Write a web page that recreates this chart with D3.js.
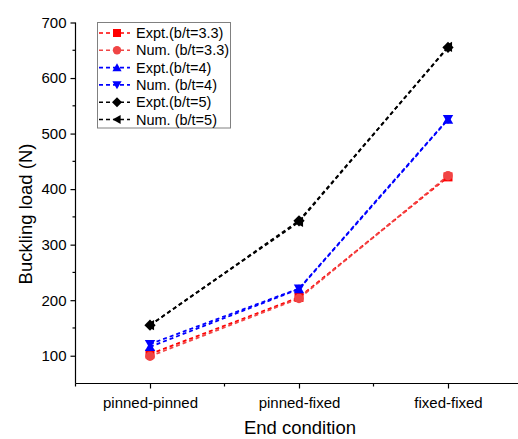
<!DOCTYPE html>
<html><head><meta charset="utf-8">
<script src="https://cdn.jsdelivr.net/npm/d3@7"></script>
<style>body{margin:0;background:#fff}svg{display:block;font-family:Arial,"Liberation Sans",sans-serif}</style>
</head><body><svg id="c" width="518" height="439"></svg>
<script>
const categories = ["pinned-pinned", "pinned-fixed", "fixed-fixed"];
const exptB33 = [103, 205, 422];
const numB33  = [99, 203, 424];
const exptB4  = [116, 220, 525];
const numB4   = [121, 221, 526];
const exptB5  = [155, 343, 655];
const numB5   = [155, 341, 656];
const yTicks = [100, 200, 300, 400, 500, 600, 700];
const seriesNames = ["Expt.(b/t=3.3)", "Num. (b/t=3.3)", "Expt.(b/t=4)", "Num. (b/t=4)", "Expt.(b/t=5)", "Num. (b/t=5)"];

const series = [
  {name: seriesNames[0], values: exptB33, color: "#ff0000", sym: "square"},
  {name: seriesNames[1], values: numB33, color: "#f04545", sym: "circle"},
  {name: seriesNames[2], values: exptB4, color: "#0000ff", sym: "up"},
  {name: seriesNames[3], values: numB4, color: "#0000ff", sym: "down"},
  {name: seriesNames[4], values: exptB5, color: "#000000", sym: "diamond"},
  {name: seriesNames[5], values: numB5, color: "#000000", sym: "left"}
];

const svg = d3.select("#c");
const x = d3.scaleLinear().domain([0.5, 3.5]).range([75.5, 522.5]);
const y = d3.scaleLinear().domain([50, 700]).range([383.5, 22.5]);

function markerPath(sym, s) {
  const h = s / 2;
  switch (sym) {
    case "square": return `M${-h},${-h}H${h}V${h}H${-h}Z`;
    case "circle": return d3.symbol(d3.symbolCircle, Math.PI * h * h * 1.1)();
    case "up": return `M0,${-h * 1.1}L${h * 1.15},${h * 0.9}L${-h * 1.15},${h * 0.9}Z`;
    case "down": return `M0,${h * 1.1}L${h * 1.15},${-h * 0.9}L${-h * 1.15},${-h * 0.9}Z`;
    case "diamond": return `M0,${-h * 1.25}L${h * 1.25},0L0,${h * 1.25}L${-h * 1.25},0Z`;
    case "left": return `M${-h * 1.1},0L${h * 0.9},${-h * 1.15}L${h * 0.9},${h * 1.15}Z`;
  }
}

// axes
const xMajor = [1, 2, 3];
const xAxis = d3.axisBottom(x).tickValues(xMajor).tickFormat(d => categories[d - 1]).tickSize(5).tickPadding(9);
const gx = svg.append("g").attr("transform", `translate(0,${y(50)})`).call(xAxis);
gx.select(".domain").attr("d", `M${x(0.5)},0H${x(3.5)}`).attr("stroke", "#000").attr("stroke-width", 1.2);
gx.selectAll(".tick line").attr("stroke", "#000").attr("stroke-width", 1.2);
gx.selectAll(".tick text").attr("font-size", 15).attr("fill", "#000").attr("font-family", "Arial, 'Liberation Sans', sans-serif");
svg.append("g").selectAll("line").data([0.5, 1.5, 2.5]).join("line")
  .attr("x1", d => x(d)).attr("x2", d => x(d)).attr("y1", y(50)).attr("y2", y(50) + 3)
  .attr("stroke", "#000").attr("stroke-width", 1.2);

const yAxis = d3.axisLeft(y).tickValues(yTicks).tickSize(5).tickPadding(4);
const gy = svg.append("g").attr("transform", `translate(${x(0.5)},0)`).call(yAxis);
gy.select(".domain").attr("d", `M0,${y(50)}V${y(700)}`).attr("stroke", "#000").attr("stroke-width", 1.2);
gy.selectAll(".tick line").attr("stroke", "#000").attr("stroke-width", 1.2);
gy.selectAll(".tick text").attr("font-size", 15).attr("fill", "#000").attr("font-family", "Arial, 'Liberation Sans', sans-serif");
svg.append("g").selectAll("line").data([150, 250, 350, 450, 550, 650]).join("line")
  .attr("x1", x(0.5) - 3).attr("x2", x(0.5)).attr("y1", d => y(d)).attr("y2", d => y(d))
  .attr("stroke", "#000").attr("stroke-width", 1.2);

svg.append("text").attr("x", 300).attr("y", 434).attr("text-anchor", "middle")
  .attr("font-size", 18.5).text("End condition");
svg.append("text").attr("transform", "translate(32,214) rotate(-90)").attr("text-anchor", "middle")
  .attr("font-size", 18.5).text("Buckling load (N)");

// lines and markers
const line = d3.line().x((d, i) => x(i + 1)).y(d => y(d));
series.forEach(s => {
  svg.append("path").datum(s.values).attr("d", line).attr("fill", "none")
    .attr("stroke", s.color).attr("stroke-width", 1.8).attr("stroke-dasharray", "4,3");
});
series.forEach(s => {
  svg.append("g").selectAll("path").data(s.values).join("path")
    .attr("transform", (d, i) => `translate(${x(i + 1)},${y(d)})`)
    .attr("d", markerPath(s.sym, 9)).attr("fill", s.color);
});

// legend
const lg = svg.append("g");
lg.append("rect").attr("x", 97.5).attr("y", 22.5).attr("width", 133).attr("height", 105.5)
  .attr("fill", "#fff").attr("stroke", "#808080").attr("stroke-width", 1);
series.forEach((s, i) => {
  const yy = 33 + i * 17.3;
  lg.append("line").attr("x1", 99).attr("x2", 130).attr("y1", yy).attr("y2", yy)
    .attr("stroke", s.color).attr("stroke-width", 1.6).attr("stroke-dasharray", "4,3");
  lg.append("path").attr("transform", `translate(117,${yy})`).attr("d", markerPath(s.sym, 8)).attr("fill", s.color);
  lg.append("text").attr("x", 136).attr("y", yy + 5).attr("font-size", 14.5).text(s.name);
});
</script></body></html>
